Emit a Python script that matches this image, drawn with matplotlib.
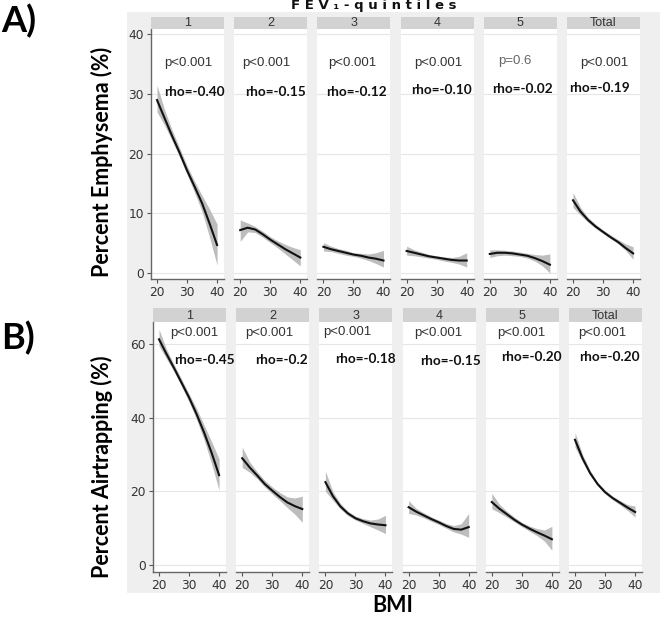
import matplotlib
matplotlib.use("Agg")
import matplotlib.pyplot as plt

# ---------------- data ----------------
panels = ["1", "2", "3", "4", "5", "Total"]
bmi = [20, 22.5, 25, 27.5, 30, 32.5, 35, 37.5, 40]

emph_fit = [
    [29.0, 26.0, 23.0, 20.2, 17.2, 14.5, 11.7, 8.3, 4.7],
    [7.2, 7.6, 7.3, 6.5, 5.6, 4.8, 4.0, 3.3, 2.6],
    [4.4, 4.0, 3.7, 3.4, 3.1, 2.9, 2.6, 2.4, 2.1],
    [3.7, 3.4, 3.1, 2.8, 2.6, 2.4, 2.2, 2.1, 2.1],
    [3.2, 3.4, 3.4, 3.3, 3.1, 2.9, 2.5, 2.0, 1.4],
    [12.2, 10.3, 8.9, 7.8, 6.9, 6.0, 5.2, 4.2, 3.3],
]
emph_lo = [
    [27.0, 24.8, 22.2, 19.5, 16.5, 13.5, 10.3, 6.0, 1.3],
    [5.3, 6.9, 6.8, 6.0, 5.1, 4.2, 3.2, 2.2, 1.2],
    [3.7, 3.6, 3.3, 3.0, 2.8, 2.5, 2.1, 1.6, 1.0],
    [3.0, 2.9, 2.7, 2.5, 2.3, 2.0, 1.8, 1.5, 1.0],
    [2.6, 2.9, 3.0, 2.9, 2.8, 2.5, 2.0, 1.2, 0.0],
    [11.0, 9.7, 8.5, 7.5, 6.6, 5.8, 4.9, 3.8, 2.3],
]
emph_hi = [
    [31.5, 27.4, 24.0, 21.0, 18.0, 15.4, 13.0, 10.7, 8.2],
    [8.9, 8.4, 7.8, 7.0, 6.1, 5.4, 4.8, 4.3, 3.9],
    [5.1, 4.5, 4.1, 3.8, 3.4, 3.3, 3.2, 3.4, 3.8],
    [4.5, 3.9, 3.5, 3.1, 2.9, 2.7, 2.6, 2.8, 3.4],
    [3.9, 3.9, 3.8, 3.7, 3.5, 3.3, 3.1, 3.0, 3.2],
    [13.5, 11.0, 9.3, 8.2, 7.2, 6.4, 5.6, 4.9, 4.4],
]
emph_p = ["p<0.001", "p<0.001", "p<0.001", "p<0.001", "p=0.6", "p<0.001"]
emph_rho = ["rho=-0.40", "rho=-0.15", "rho=-0.12", "rho=-0.10", "rho=-0.02", "rho=-0.19"]

air_fit = [
    [61.3, 57.3, 53.5, 49.5, 45.5, 41.0, 36.0, 30.5, 24.4],
    [29.0, 26.5, 24.3, 22.0, 20.2, 18.5, 17.0, 16.0, 15.2],
    [22.5, 18.7, 15.9, 14.0, 12.7, 11.9, 11.3, 11.0, 10.8],
    [15.7, 14.5, 13.5, 12.5, 11.6, 10.6, 9.8, 9.6, 10.3],
    [17.1, 15.3, 13.8, 12.3, 11.0, 9.9, 8.9, 8.0, 7.0],
    [34.0, 29.0, 25.0, 22.0, 19.8, 18.2, 16.9, 15.6, 14.4],
]
air_lo = [
    [59.5, 56.0, 52.5, 48.5, 44.3, 39.5, 34.0, 27.5, 20.3],
    [26.5, 25.2, 23.4, 21.2, 19.3, 17.5, 15.6, 13.8, 11.6],
    [20.0, 17.6, 15.2, 13.4, 12.2, 11.3, 10.4, 9.5, 8.5],
    [14.0, 13.6, 12.8, 11.9, 11.0, 10.0, 9.0, 8.4, 7.5],
    [15.3, 14.2, 13.0, 11.7, 10.4, 9.2, 8.0, 6.5, 4.0],
    [32.0, 28.0, 24.4, 21.5, 19.3, 17.7, 16.3, 14.8, 13.0],
]
air_hi = [
    [64.0, 58.6, 54.5, 50.5, 46.5, 42.5, 38.0, 33.5, 28.8],
    [32.0, 28.0, 25.3, 23.0, 21.2, 19.7, 18.5, 18.2, 18.7],
    [25.5, 19.9, 16.7, 14.6, 13.3, 12.6, 12.2, 12.5, 13.5],
    [17.5, 15.4, 14.2, 13.1, 12.2, 11.3, 10.7, 11.2, 14.0],
    [19.5, 16.5, 14.6, 13.0, 11.6, 10.6, 9.9, 9.5, 10.5],
    [36.0, 30.0, 25.7, 22.5, 20.3, 18.7, 17.5, 16.4, 16.0],
]
air_p = ["p<0.001"] * 6
air_rho = ["rho=-0.45", "rho=-0.2", "rho=-0.18", "rho=-0.15", "rho=-0.20", "rho=-0.20"]

xticks = [20, 30, 40]
emph_yticks = [0, 10, 20, 30, 40]
air_yticks = [0, 20, 40, 60]

# ---------------- layout ----------------
W, H = 660, 618
fig = plt.figure(figsize=(W / 100, H / 100), dpi=100)
fig.patch.set_facecolor("white")

def fx(x):
    return x / W

def fy(y):
    return 1 - y / H

BG = "#efefef"
STRIP = "#d2d2d2"
TXT = "#333333"

bg = fig.add_axes([fx(127), fy(593), fx(660) - fx(127), fy(12) - fy(593)], zorder=-10)
bg.set_facecolor(BG)
bg.set_xticks([])
bg.set_yticks([])
for s in bg.spines.values():
    s.set_visible(False)

# annotation positions (axes fraction)
emph_ppos = [(0.51, 0.863), (0.44, 0.863), (0.48, 0.863), (0.51, 0.863), (0.43, 0.871), (0.51, 0.863)]
emph_rpos = [(0.60, 0.745), (0.56, 0.745), (0.53, 0.745), (0.56, 0.753), (0.53, 0.757), (0.45, 0.761)]
air_ppos = [(0.56, 0.955), (0.45, 0.955), (0.38, 0.96), (0.49, 0.955), (0.48, 0.955), (0.45, 0.955)]
air_rpos = [(0.70, 0.848), (0.62, 0.848), (0.63, 0.852), (0.66, 0.844), (0.62, 0.86), (0.56, 0.86)]


def draw_row(left0, top, bottom, strip_top, ylim, yticks, fits, los, his, ptxt, rtxt, ppos, rpos, pcolors):
    step = 83.2
    width = 73
    for i, name in enumerate(panels):
        left = left0 + i * step
        ax = fig.add_axes([fx(left), fy(bottom), fx(width), fy(top) - fy(bottom)])
        ax.set_facecolor("white")
        ax.fill_between(bmi, los[i], his[i], color="#bdbdbd", lw=0, zorder=2)
        ax.plot(bmi, fits[i], color="#111111", lw=1.5, zorder=3)
        ax.set_xlim(18, 42.3)
        ax.set_ylim(*ylim)
        ax.set_xticks(xticks)
        ax.set_yticks(yticks)
        ax.grid(axis="y", color="#e6e6e6", lw=0.8, zorder=1)
        ax.set_axisbelow(True)
        for s in ["top", "right"]:
            ax.spines[s].set_visible(False)
        ax.spines["bottom"].set_color("#666666")
        ax.spines["bottom"].set_linewidth(1.0)
        ax.tick_params(axis="x", colors="#555555", labelcolor=TXT, labelsize=8.8, length=3, width=0.8, pad=2)
        if i == 0:
            ax.spines["left"].set_color("#666666")
            ax.spines["left"].set_linewidth(1.0)
            ax.tick_params(axis="y", colors="#555555", labelcolor=TXT, labelsize=8.8, length=3, width=0.8, pad=2)
        else:
            ax.spines["left"].set_visible(False)
            ax.tick_params(axis="y", left=False, labelleft=False)
        ax.text(ppos[i][0], ppos[i][1], ptxt[i], transform=ax.transAxes, ha="center", va="center",
                fontsize=9.5, color=pcolors[i], family="Liberation Sans", zorder=5)
        ax.text(rpos[i][0], rpos[i][1], rtxt[i], transform=ax.transAxes, ha="center", va="center",
                fontsize=9.8, color="#111111", family="Lato", fontweight="bold", zorder=5, clip_on=False)
        # strip
        sax = fig.add_axes([fx(left), fy(top), fx(width), fy(strip_top) - fy(top)])
        sax.set_facecolor(STRIP)
        sax.set_xticks([])
        sax.set_yticks([])
        for s in sax.spines.values():
            s.set_visible(False)
        sax.text(0.5, 0.45, name, transform=sax.transAxes, ha="center", va="center",
                 fontsize=9, color=TXT, family="Liberation Sans")


draw_row(151, 28.5, 279, 17, (-1.0, 41.0), emph_yticks, emph_fit, emph_lo, emph_hi,
         emph_p, emph_rho, emph_ppos, emph_rpos, [TXT, TXT, TXT, TXT, "#666666", TXT])
draw_row(153, 322, 572, 308, (-1.9, 66.0), air_yticks, air_fit, air_lo, air_hi,
         air_p, air_rho, air_ppos, air_rpos, [TXT] * 6)

# labels
fig.text(fx(1), fy(21), "A)", fontsize=26, fontweight="bold", family="Lato", ha="left", va="center")
fig.text(fx(1), fy(338), "B)", fontsize=26, fontweight="bold", family="Lato", ha="left", va="center")
fig.text(fx(102), fy(162), "Percent Emphysema (%)", rotation=90, fontsize=15.5, fontweight="bold",
         family="Lato", ha="center", va="center")
fig.text(fx(102), fy(467), "Percent Airtrapping (%)", rotation=90, fontsize=15.5, fontweight="bold",
         family="Lato", ha="center", va="center")
fig.text(fx(393), fy(606), "BMI", fontsize=15.5, fontweight="bold", family="Lato", ha="center", va="center")
fig.text(fx(374), fy(5), "F E V \u2081 - q u i n t i l e s", fontsize=9.5, fontweight="bold",
         family="DejaVu Sans", ha="center", va="center", color="#111111")

fig.savefig("out.png", dpi=100)
